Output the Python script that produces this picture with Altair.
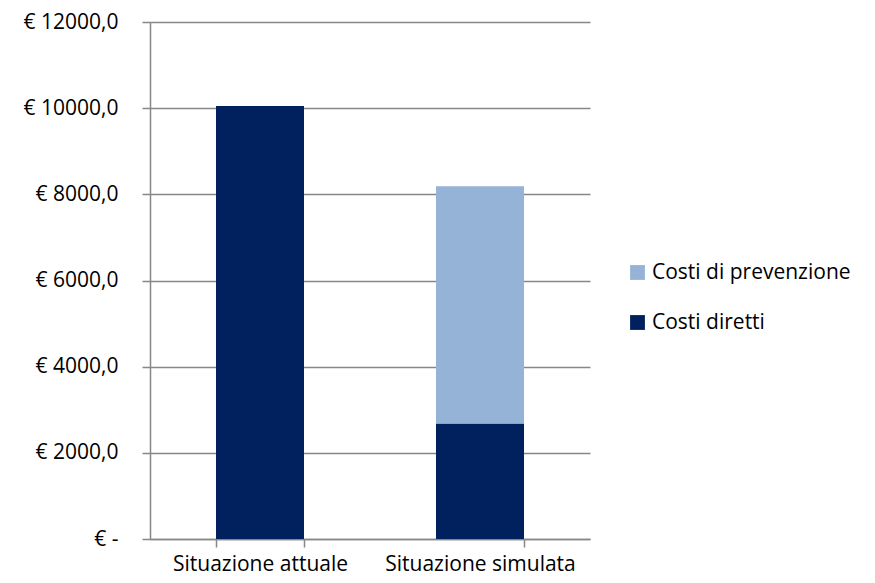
import altair as alt
import pandas as pd

categories = ["Situazione attuale", "Situazione simulata"]
series = ["Costi diretti", "Costi di prevenzione"]
costi_diretti = [10050, 2680]
costi_prevenzione = [0, 5510]
y_ticks = [0, 2000, 4000, 6000, 8000, 10000, 12000]

rows = []
for i, c in enumerate(categories):
    rows.append({"cat": c, "serie": series[0], "val": costi_diretti[i], "ord": 0})
    rows.append({"cat": c, "serie": series[1], "val": costi_prevenzione[i], "ord": 1})
df = pd.DataFrame(rows)

FONT = "Open Sans"
GRAY = "#878787"

chart = alt.Chart(df).mark_bar().encode(
    x=alt.X("cat:N", sort=categories, title=None,
            scale=alt.Scale(paddingInner=0.6, paddingOuter=0.3),
            axis=alt.Axis(labelAngle=0, tickBand="extent", ticks=True, tickSize=8,
                          tickColor=GRAY, tickWidth=1.5, domainColor=GRAY, domainWidth=1.5,
                          labelFont=FONT, labelFontSize=21, labelColor="#000000",
                          labelPadding=6, labelLimit=300, grid=False)),
    y=alt.Y("val:Q", stack="zero", title=None,
            scale=alt.Scale(domain=[0, 12000], nice=False),
            axis=alt.Axis(values=y_ticks, tickSize=8, tickColor=GRAY, tickWidth=1.5,
                          domainColor=GRAY, domainWidth=1.5,
                          gridColor=GRAY, gridWidth=1.5, grid=True,
                          labelFont=FONT, labelFontSize=21, labelColor="#000000",
                          labelPadding=24,
                          labelExpr="datum.value == 0 ? '€ -\u00a0\u00a0\u00a0' : '€ ' + replace(format(datum.value, '.1f'), '.', ',')")),
    color=alt.Color("serie:N", sort=["Costi di prevenzione", "Costi diretti"],
                    scale=alt.Scale(domain=["Costi di prevenzione", "Costi diretti"],
                                    range=["#95b3d7", "#00215e"]),
                    legend=alt.Legend(title=None, orient="none", legendX=477, legendY=240,
                                      symbolType="square", symbolSize=220,
                                      symbolStrokeWidth=0, rowPadding=28,
                                      labelFont=FONT, labelFontSize=21, labelColor="#000000",
                                      labelOffset=4, labelLimit=400)),
    order=alt.Order("ord:Q"),
).properties(
    width=440, height=517,
    autosize=alt.AutoSizeParams(type="none"),
    padding={"left": 142, "top": 14, "right": 276, "bottom": 36},
).configure_view(stroke=None).configure_axis(gridOpacity=1)

chart.save("out.html", embed_options={"renderer": "svg", "actions": False})
